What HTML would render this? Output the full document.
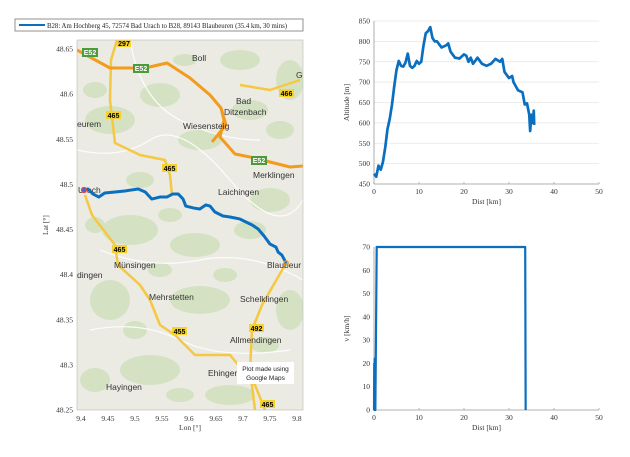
<!DOCTYPE html>
<html><head><meta charset="utf-8"><style>
body{margin:0;background:#fff;width:630px;height:457px;overflow:hidden;font-family:"Liberation Serif",serif}
svg{position:absolute;left:0;top:0}
</style></head><body>
<svg width="630" height="457" font-family="Liberation Serif, serif">
<defs><clipPath id="mc"><rect x="77" y="40" width="226" height="370"/></clipPath></defs>
<g clip-path="url(#mc)">
<rect x="77" y="40" width="226" height="370" fill="#ebeae3"/>
<g fill="#d3e2c2" opacity="0.95">
<ellipse cx="110" cy="120" rx="25" ry="14"/><ellipse cx="160" cy="95" rx="20" ry="12"/><ellipse cx="250" cy="110" rx="18" ry="10"/>
<ellipse cx="200" cy="140" rx="22" ry="10"/><ellipse cx="130" cy="230" rx="28" ry="15"/><ellipse cx="195" cy="245" rx="25" ry="12"/>
<ellipse cx="110" cy="300" rx="20" ry="20"/><ellipse cx="200" cy="300" rx="30" ry="14"/><ellipse cx="270" cy="200" rx="20" ry="12"/>
<ellipse cx="150" cy="370" rx="30" ry="15"/><ellipse cx="230" cy="395" rx="25" ry="10"/><ellipse cx="95" cy="380" rx="15" ry="12"/>
<ellipse cx="240" cy="60" rx="20" ry="10"/><ellipse cx="290" cy="80" rx="14" ry="20"/><ellipse cx="290" cy="310" rx="14" ry="20"/>
<ellipse cx="140" cy="180" rx="14" ry="8"/><ellipse cx="250" cy="230" rx="16" ry="9"/><ellipse cx="170" cy="215" rx="12" ry="7"/>
<ellipse cx="95" cy="225" rx="10" ry="8"/><ellipse cx="225" cy="275" rx="12" ry="7"/><ellipse cx="265" cy="345" rx="14" ry="8"/>
<ellipse cx="135" cy="330" rx="12" ry="9"/><ellipse cx="180" cy="395" rx="14" ry="7"/><ellipse cx="280" cy="130" rx="14" ry="9"/>
<ellipse cx="185" cy="60" rx="12" ry="6"/><ellipse cx="95" cy="90" rx="12" ry="8"/><ellipse cx="160" cy="270" rx="12" ry="7"/>
</g>
<g fill="none" stroke="#fff" stroke-width="1.2" opacity="0.9">
<path d="M77 150 Q120 160 150 140 T230 180 T303 200"/><path d="M100 250 Q150 270 200 260 T303 280"/>
<path d="M130 40 Q140 100 180 120 T260 140"/><path d="M90 330 Q140 320 180 340 T290 350"/>
</g>
<g fill="none" stroke="#f5c842" stroke-width="2.5" stroke-linejoin="round">
<path d="M117 40 L111 60 L110 100 L115 143 L140 155 L165 160 L170 175 L172 195"/>
<path d="M85 195 L92 215 L115 245 L118 265 L140 285 L150 300 L160 325 L175 335 L195 355 L230 355 L255 385 L265 410"/>
<path d="M285 265 L262 305 L252 330 L250 370 L255 410"/>
<path d="M240 85 L270 90 L300 80"/>
</g>
<g fill="none" stroke="#f29b1d" stroke-width="3" stroke-linejoin="round">
<path d="M77 50 L110 68 L145 68 L167 63 L190 78 L210 95 L221 108 L224 120 L220 137 L235 154 L255 158 L270 162 L290 167 L303 166"/>
<path d="M221 108 L226 125 L212 142"/>
</g>
<g font-family="Liberation Sans, sans-serif" font-size="7" font-weight="bold" text-anchor="middle">
<rect x="117" y="40" width="14" height="7" fill="#f5d32c"/><text x="124" y="46">297</text>
<rect x="82" y="48" width="16" height="9" fill="#4e9a3a"/><text x="90" y="55" fill="#fff">E52</text>
<rect x="133" y="64" width="16" height="9" fill="#4e9a3a"/><text x="141" y="71" fill="#fff">E52</text>
<rect x="251" y="156" width="16" height="9" fill="#4e9a3a"/><text x="259" y="163" fill="#fff">E52</text>
<rect x="106" y="111" width="15" height="8" fill="#f5d32c"/><text x="113.5" y="118">465</text>
<rect x="162" y="164" width="15" height="8" fill="#f5d32c"/><text x="169.5" y="171">465</text>
<rect x="112" y="245" width="15" height="8" fill="#f5d32c"/><text x="119.5" y="252">465</text>
<rect x="172" y="327" width="15" height="8" fill="#f5d32c"/><text x="179.5" y="334">455</text>
<rect x="249" y="324" width="15" height="8" fill="#f5d32c"/><text x="256.5" y="331">492</text>
<rect x="279" y="89" width="15" height="8" fill="#f5d32c"/><text x="286.5" y="96">466</text>
<rect x="260" y="400" width="15" height="8" fill="#f5d32c"/><text x="267.5" y="407">465</text>
</g>
<g font-family="Liberation Sans, sans-serif" font-size="8.5" fill="#333">
<text x="192" y="61">Boll</text><text x="236" y="104">Bad</text><text x="224" y="115">Ditzenbach</text>
<text x="183" y="129">Wiesensteig</text><text x="253" y="178">Merklingen</text><text x="218" y="195">Laichingen</text>
<text x="78" y="193">Urach</text><text x="114" y="268">Münsingen</text><text x="77" y="278">dingen</text>
<text x="149" y="300">Mehrstetten</text><text x="240" y="302">Schelklingen</text><text x="230" y="343">Allmendingen</text>
<text x="208" y="376">Ehinger</text><text x="106" y="390">Hayingen</text><text x="267" y="268">Blaubeur</text>
<text x="77" y="127">eurem</text><text x="296" y="78">Ge</text>
</g>
<polyline id="route" fill="none" stroke="#0b6fc0" stroke-width="3" stroke-linejoin="round"/>
<circle id="rs" r="2.5" fill="#3a6bd0" stroke="#e44" stroke-width="1.2"/>
<circle id="re" r="2.2" fill="none" stroke="#f29b1d" stroke-width="1.2"/>
<rect x="237" y="362" width="57" height="22" fill="#fff"/>
<text x="265.5" y="371" font-family="Liberation Sans, sans-serif" font-size="6.5" text-anchor="middle" fill="#222">Plot made using</text>
<text x="265.5" y="380" font-family="Liberation Sans, sans-serif" font-size="6.5" text-anchor="middle" fill="#222">Google Maps</text>
</g>
<rect x="77" y="40" width="226" height="370" fill="none" stroke="#bbb" stroke-width="0.6"/>
<g id="mapaxes" font-size="7.5" fill="#333"></g>
<text x="190" y="430" font-size="7.5" text-anchor="middle" fill="#333">Lon [°]</text>
<text transform="translate(48,225) rotate(-90)" font-size="7.5" text-anchor="middle" fill="#333">Lat [°]</text>
<g>
<rect x="15" y="19" width="288" height="12" fill="#fff" stroke="#777" stroke-width="0.8"/>
<line x1="19" y1="25" x2="45" y2="25" stroke="#0b6fc0" stroke-width="2"/>
<text x="47" y="28" font-size="6.8" fill="#222">B28: Am Hochberg 45, 72574 Bad Urach to B28, 89143 Blaubeuren (35.4 km, 30 mins)</text>
</g>
<g id="alt" font-size="7.5" fill="#333"></g>
<g id="spd" font-size="7.5" fill="#333"></g>
</svg>
<script>
const NS="http://www.w3.org/2000/svg";
const routeLon=[9.4056,9.413,9.422,9.433,9.444,9.463,9.481,9.506,9.519,9.531,9.546,9.559,9.570,9.580,9.589,9.594,9.609,9.620,9.631,9.639,9.648,9.663,9.676,9.694,9.717,9.728,9.739,9.750,9.761,9.765,9.772,9.780];
const routeLat=[48.4938,48.4949,48.4894,48.486,48.4905,48.4916,48.4927,48.4949,48.4916,48.4838,48.486,48.486,48.4894,48.4894,48.4838,48.476,48.4738,48.4727,48.4772,48.476,48.4694,48.465,48.4639,48.4617,48.455,48.4506,48.4428,48.4339,48.4306,48.425,48.4217,48.4128];
const lonTicks=["9.4","9.45","9.5","9.55","9.6","9.65","9.7","9.75","9.8"];
const latTicks=["48.25","48.3","48.35","48.4","48.45","48.5","48.55","48.6","48.65"];
const altDist=[0,0.5,1,1.5,2,2.5,3,3.5,4,4.5,5,5.5,6,6.5,7,7.5,8,8.5,9,9.5,10,10.5,11,11.5,12,12.5,13,13.5,14,15,16,16.5,17,18,19,20,20.5,21,21.5,22,23,24,25,26,27,28,28.5,29,30,30.7,31,32,33,33.5,34,34.5,34.7,35,35.3,35.5,35.6];
const altVal=[475,468,495,485,505,540,585,610,645,690,730,752,740,738,748,770,740,735,740,752,745,750,790,820,825,835,808,800,800,785,790,795,775,760,758,768,765,750,760,745,760,745,740,745,757,750,757,725,710,715,700,680,675,645,648,620,580,620,600,630,595];
const spdDist=[0,0.05,0.1,0.15,0.2,0.25,0.3,0.4,0.6,33.6,33.7];
const spdVal=[0,20,0,22,0,21,0,23,70,70,0];
const xTicks=[0,10,20,30,40,50];
const altTicks=[450,500,550,600,650,700,750,800,850];
const spdTicks=[0,10,20,30,40,50,60,70];
function el(t,a,p){const e=document.createElementNS(NS,t);for(const k in a)e.setAttribute(k,a[k]);p.appendChild(e);return e;}
const lonX=v=>77+(v-9.3926)*540, latY=v=>40+(48.66-v)*902.5;
document.getElementById('route').setAttribute('points',routeLon.map((l,i)=>lonX(l)+','+latY(routeLat[i])).join(' '));
const rs=document.getElementById('rs');rs.setAttribute('cx',lonX(routeLon[0]));rs.setAttribute('cy',latY(routeLat[0]));
const re=document.getElementById('re');re.setAttribute('cx',lonX(routeLon[routeLon.length-1]));re.setAttribute('cy',latY(routeLat[routeLat.length-1]));
const ma=document.getElementById('mapaxes');
lonTicks.forEach(t=>{const x=lonX(+t);const e=el('text',{x:x,y:421,'text-anchor':'middle'},ma);e.textContent=t;

});
latTicks.forEach(t=>{const y=latY(+t);const e=el('text',{x:73,y:y+2.5,'text-anchor':'end'},ma);e.textContent=t;

});
function chart(g,x0,x1,y0,y1,ymin,ymax,yt,dx,dy,title,grid,hv){
 const X=v=>x0+(v-0)/50*(x1-x0), Y=v=>y0-(v-ymin)/(ymax-ymin)*(y0-y1);
 yt.forEach(t=>{if(grid&&t!==ymin)el('line',{x1:x0,x2:x1,y1:Y(t),y2:Y(t),stroke:'#e6e6e6','stroke-width':0.8},g);
  const e=el('text',{x:x0-4,y:Y(t)+2.5,'text-anchor':'end'},g);e.textContent=t;
  
  });
 xTicks.forEach(t=>{el('line',{x1:X(t),x2:X(t),y1:y0,y2:y0-2,stroke:'#888','stroke-width':0.6},g);
  const e=el('text',{x:X(t),y:y0+10,'text-anchor':'middle'},g);e.textContent=t;
  
  });
 el('line',{x1:x0,x2:x1,y1:y0,y2:y0,stroke:'#999','stroke-width':0.8},g);
 el('line',{x1:x0,x2:x0,y1:y0,y2:y1,stroke:'#999','stroke-width':0.8},g);
 const xt=el('text',{x:(x0+x1)/2,y:y0+20,'text-anchor':'middle'},g);xt.textContent='Dist [km]';
 
 
 const yl=el('text',{transform:`translate(${x0-25},${(y0+y1)/2}) rotate(-90)`,'text-anchor':'middle'},g);yl.textContent=title;
 
 
 const p=el('polyline',{points:dx.map((d,i)=>X(d)+','+Y(dy[i])).join(' '),fill:'none',stroke:'#0b6fc0','stroke-width':hv?2.2:2.7,'stroke-linejoin':'round'},g);
 
 
}
chart(document.getElementById('alt'),374,599,184,21,450,850,altTicks,altDist,altVal,'Altitude [m]',true,false);
chart(document.getElementById('spd'),374,599,410,247,0,70,spdTicks,spdDist,spdVal,'v [km/h]',false,true);
</script>
</body></html>
